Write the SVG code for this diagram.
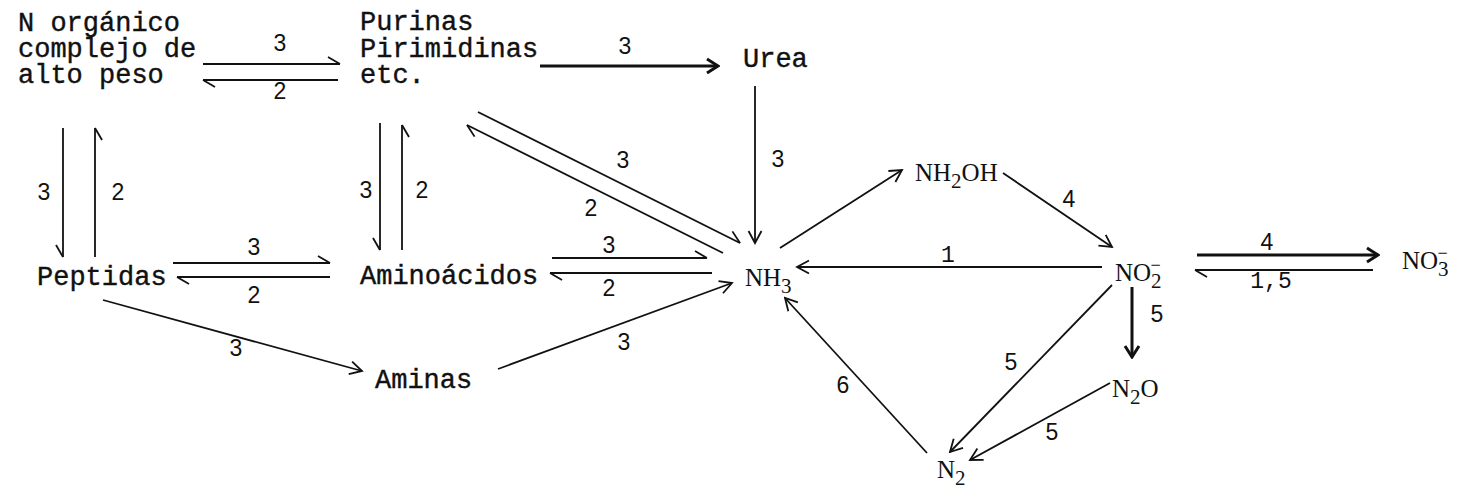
<svg xmlns="http://www.w3.org/2000/svg" width="1464" height="493" viewBox="0 0 1464 493">
<defs>
<style>
.tw{font-family:"Liberation Mono","Courier New",monospace;font-size:27px;fill:#111;stroke:#111;stroke-width:0.4}
.ch{font-family:"Liberation Serif","Times New Roman",serif;font-size:25px;fill:#111}
.lb{font-family:"Liberation Sans Narrow","Liberation Sans",Arial,sans-serif;font-size:23px;fill:#111;text-anchor:middle}
.lm{font-family:"Liberation Mono","Courier New",monospace;font-size:23px;fill:#111;text-anchor:middle}
.c{stroke:#111;stroke-width:1.8;fill:none}
.b{stroke:#111;stroke-width:3;fill:none}
.hl{marker-end:url(#hl)}
.hr{marker-end:url(#hr)}
.f{marker-end:url(#full)}
.fb{marker-end:url(#fullb)}
</style>
<marker id="full" viewBox="-14 -9 16 18" markerWidth="16" markerHeight="18" refX="0" refY="0" orient="auto" markerUnits="userSpaceOnUse">
<path d="M-12,-6.5 L0,0 L-12,6.5" fill="none" stroke="#111" stroke-width="1.8"/>
</marker>
<marker id="fullb" viewBox="-14 -9 16 18" markerWidth="16" markerHeight="18" refX="0" refY="0" orient="auto" markerUnits="userSpaceOnUse">
<path d="M-11,-7 L0,0 L-11,7" fill="none" stroke="#111" stroke-width="3"/>
</marker>
<marker id="hl" viewBox="-14 -9 16 18" markerWidth="16" markerHeight="18" refX="0" refY="0" orient="auto" markerUnits="userSpaceOnUse">
<path d="M-12,-7 L0,0" fill="none" stroke="#111" stroke-width="1.8"/>
</marker>
<marker id="hr" viewBox="-14 -9 16 18" markerWidth="16" markerHeight="18" refX="0" refY="0" orient="auto" markerUnits="userSpaceOnUse">
<path d="M-12,7 L0,0" fill="none" stroke="#111" stroke-width="1.8"/>
</marker>
</defs>
<rect width="1464" height="493" fill="#fff"/>

<g id="connectors">
<line class="c hl" x1="203" y1="64" x2="340" y2="64"/>
<line class="c hl" x1="338" y1="80" x2="203" y2="80"/>
<line class="b fb" x1="540" y1="66" x2="718" y2="66"/>
<line class="c f" x1="755" y1="86" x2="755" y2="243"/>
<line class="c hr" x1="63" y1="128" x2="63" y2="257"/>
<line class="c hr" x1="95" y1="257" x2="95" y2="128"/>
<line class="c hr" x1="380" y1="123" x2="380" y2="250"/>
<line class="c hr" x1="402" y1="250" x2="402" y2="125"/>
<line class="c hl" x1="173" y1="263" x2="330" y2="263"/>
<line class="c hl" x1="330" y1="277" x2="177" y2="277"/>
<line class="c hl" x1="552" y1="258" x2="707" y2="258"/>
<line class="c hl" x1="712" y1="273" x2="550" y2="273"/>
<line class="c hl" x1="478" y1="112" x2="740" y2="243"/>
<line class="c hl" x1="723" y1="253" x2="467" y2="125"/>
<line class="c f" x1="103" y1="300" x2="362" y2="371"/>
<line class="c f" x1="498" y1="369" x2="732" y2="283"/>
<line class="c f" x1="780" y1="248" x2="902" y2="170"/>
<line class="c f" x1="1003" y1="173" x2="1112" y2="247"/>
<line class="c f" x1="1102" y1="267" x2="797" y2="267"/>
<line class="b fb" x1="1197" y1="255" x2="1378" y2="255"/>
<line class="c hl" x1="1373" y1="270" x2="1195" y2="270"/>
<line class="b fb" x1="1132" y1="287" x2="1132" y2="357"/>
<line class="c f" x1="1112" y1="285" x2="950" y2="452"/>
<line class="c f" x1="1110" y1="383" x2="970" y2="460"/>
<line class="c f" x1="927" y1="453" x2="785" y2="298"/>
</g>

<g id="labels">
<text class="lb" x="280" y="51">3</text>
<text class="lb" x="280" y="99">2</text>
<text class="lb" x="625" y="54">3</text>
<text class="lb" x="44" y="200">3</text>
<text class="lb" x="118" y="200">2</text>
<text class="lb" x="366" y="198">3</text>
<text class="lb" x="422" y="198">2</text>
<text class="lb" x="623" y="168">3</text>
<text class="lb" x="591" y="216">2</text>
<text class="lb" x="778" y="167">3</text>
<text class="lb" x="254" y="255">3</text>
<text class="lb" x="254" y="303">2</text>
<text class="lb" x="609" y="253">3</text>
<text class="lb" x="609" y="296">2</text>
<text class="lb" x="236" y="356">3</text>
<text class="lb" x="624" y="350">3</text>
<text class="lm" x="948" y="262">1</text>
<text class="lb" x="1069" y="207">4</text>
<text class="lb" x="1267" y="250">4</text>
<text class="lm" x="1271" y="288">1,5</text>
<text class="lb" x="1157" y="322">5</text>
<text class="lb" x="1011" y="370">5</text>
<text class="lb" x="1052" y="440">5</text>
<text class="lb" x="843" y="393">6</text>
</g>

<g id="n-organico"><text class="tw" x="18" y="31">N orgánico<tspan x="18" y="57">complejo de</tspan><tspan x="18" y="83">alto peso</tspan></text></g>
<g id="purinas"><text class="tw" x="360" y="30">Purinas<tspan x="360" y="57">Pirimidinas</tspan><tspan x="360" y="83">etc.</tspan></text></g>
<g id="urea"><text class="tw" x="743" y="67">Urea</text></g>
<g id="peptidas"><text class="tw" x="37" y="285">Peptidas</text></g>
<g id="aminoacidos"><text class="tw" x="360" y="284">Aminoácidos</text></g>
<g id="aminas"><text class="tw" x="375" y="388">Aminas</text></g>
<g id="nh3"><text class="ch" x="745" y="286">NH<tspan dy="7" font-size="21">3</tspan></text></g>
<g id="nh2oh"><text class="ch" x="915" y="181">NH<tspan dy="7" font-size="21">2</tspan><tspan dy="-7">OH</tspan></text></g>
<g id="no2"><text class="ch" x="1115" y="281">NO<tspan dy="7" font-size="21">2</tspan><tspan dx="-11" dy="-17" font-size="18">−</tspan></text></g>
<g id="no3"><text class="ch" x="1402" y="269">NO<tspan dy="7" font-size="21">3</tspan><tspan dx="-11" dy="-17" font-size="18">−</tspan></text></g>
<g id="n2o"><text class="ch" x="1112" y="397">N<tspan dy="7" font-size="21">2</tspan><tspan dy="-7">O</tspan></text></g>
<g id="n2"><text class="ch" x="937" y="478">N<tspan dy="7" font-size="21">2</tspan></text></g>
</svg>
